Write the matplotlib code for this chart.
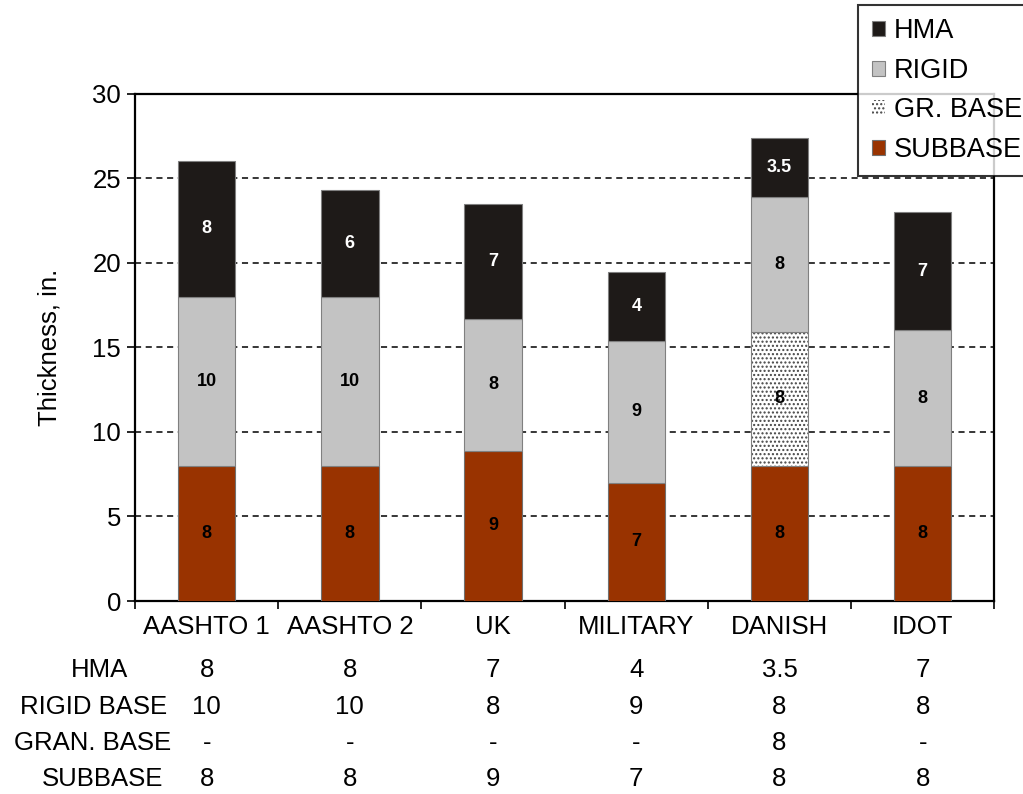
import numpy as np
import matplotlib
matplotlib.use("Agg")
import matplotlib.pyplot as plt
import matplotlib.transforms as mtransforms

plt.rcParams['font.family'] = ['Liberation Sans', 'DejaVu Sans']
plt.rcParams['hatch.color'] = '#444444'
plt.rcParams['hatch.linewidth'] = 1.0

# Data
sections = ["AASHTO 1", "AASHTO 2", "UK", "MILITARY", "DANISH", "IDOT"]
# segment heights (bottom to top: subbase, gran. base, rigid, HMA)
subbase = [8, 8, 8.9, 7, 8, 8]
granbase = [0, 0, 0, 0, 7.9, 0]
rigid = [10, 10, 7.8, 8.4, 8, 8]
hma = [8, 6.3, 6.8, 4.05, 3.5, 7]
# numbers printed inside the bars
subbase_lbl = ["8", "8", "9", "7", "8", "8"]
granbase_lbl = ["", "", "", "", "8", ""]
rigid_lbl = ["10", "10", "8", "9", "8", "8"]
hma_lbl = ["8", "6", "7", "4", "3.5", "7"]
# table under the chart
table_rows = ["HMA", "RIGID BASE", "GRAN. BASE", "SUBBASE"]
table_vals = [
    ["8", "8", "7", "4", "3.5", "7"],
    ["10", "10", "8", "9", "8", "8"],
    ["-", "-", "-", "-", "8", "-"],
    ["8", "8", "9", "7", "8", "8"],
]

c_hma = "#1e1a18"
c_rigid = "#c3c3c3"
c_sub = "#993300"
fs = 18.5

fig = plt.figure(figsize=(10.23, 7.94), dpi=100)
ax = fig.add_axes([0.132, 0.243, 0.840, 0.639])

x = np.arange(len(sections))
w = 0.4
sub = np.array(subbase)
gb = np.array(granbase)
rig = np.array(rigid)
hm = np.array(hma)

b1 = ax.bar(x, sub, w, color=c_sub, edgecolor="#707070", linewidth=0.8, zorder=3)
gmask = gb > 0
b3 = ax.bar(x[gmask], gb[gmask], w, bottom=sub[gmask], color="white",
            edgecolor="#444444", hatch="....", linewidth=0, zorder=3)
ax.bar(x[gmask], gb[gmask], w, bottom=sub[gmask], fill=False,
       edgecolor="#808080", linewidth=0.8, zorder=3)
b2 = ax.bar(x, rig, w, bottom=sub + gb, color=c_rigid, edgecolor="#808080", linewidth=0.8, zorder=3)
b4 = ax.bar(x, hm, w, bottom=sub + gb + rig, color=c_hma, edgecolor="#808080", linewidth=0.8, zorder=3)

# labels inside segments
for i in range(len(sections)):
    ax.text(x[i], sub[i] / 2, subbase_lbl[i], ha="center", va="center",
            fontsize=13, fontweight="bold", color="black", zorder=4)
    if granbase_lbl[i]:
        ax.text(x[i], sub[i] + gb[i] / 2, granbase_lbl[i], ha="center", va="center",
                fontsize=13, fontweight="bold", color="black", zorder=4)
    ax.text(x[i], sub[i] + gb[i] + rig[i] / 2, rigid_lbl[i], ha="center", va="center",
            fontsize=13, fontweight="bold", color="black", zorder=4)
    ax.text(x[i], sub[i] + gb[i] + rig[i] + hm[i] / 2, hma_lbl[i], ha="center", va="center",
            fontsize=13, fontweight="bold", color="white", zorder=4)

ax.set_xlim(-0.5, len(sections) - 0.5)
ax.set_ylim(0, 30)
ax.set_yticks(np.arange(0, 31, 5))
ax.set_xticks(x)
ax.set_xticklabels(sections, fontsize=fs)
ax.set_xticks(np.arange(-0.5, len(sections), 1), minor=True)
ax.tick_params(axis="x", which="major", length=0, pad=10)
ax.tick_params(axis="x", which="minor", length=6, width=1.2, direction="out")
ax.tick_params(axis="y", labelsize=fs, length=6, width=1.2, direction="out", pad=4)
for g in range(5, 30, 5):
    ax.axhline(g, color="black", linestyle=(0, (4, 3)), linewidth=1.1, zorder=1)
for s in ax.spines.values():
    s.set_linewidth(1.6)
ax.set_ylabel("Thickness, in.", fontsize=fs)
ax.yaxis.set_label_coords(-0.086, 0.5)

# table below the axis
trans = mtransforms.blended_transform_factory(ax.transData, fig.transFigure)
row_y = [0.156, 0.110, 0.064, 0.019]
row_x = [0.097, 0.091, 0.090, 0.100]
for r in range(len(table_rows)):
    fig.text(row_x[r], row_y[r], table_rows[r], ha="center", va="center", fontsize=fs)
    for i in range(len(sections)):
        ax.text(x[i], row_y[r], table_vals[r][i], transform=trans, ha="center",
                va="center", fontsize=fs, clip_on=False)

leg = fig.legend([b4, b2, b3, b1], ["HMA", "RIGID", "GR. BASE", "SUBBASE"],
                 loc="upper left", bbox_to_anchor=(0.839, 0.994), fontsize=19.5,
                 frameon=True, fancybox=False, handlelength=0.5, handleheight=0.5,
                 handletextpad=0.3, labelspacing=0.5, borderpad=0.5, borderaxespad=0)
leg.get_frame().set_edgecolor("black")
leg.get_frame().set_linewidth(1.5)

fig.savefig("out.png", dpi=100)
